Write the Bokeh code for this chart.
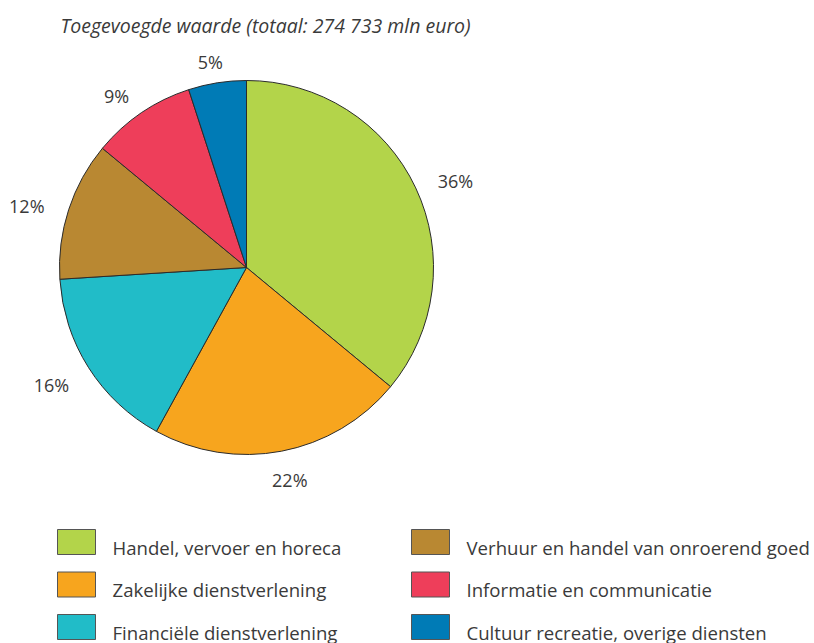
import math
from bokeh.plotting import figure
from bokeh.models import Range1d, ColumnDataSource
from bokeh.core.properties import value
from bokeh.embed import file_html
from bokeh.resources import INLINE

# ---- data ----
categories = [
    "Handel, vervoer en horeca",
    "Zakelijke dienstverlening",
    "Financiële dienstverlening",
    "Verhuur en handel van onroerend goed",
    "Informatie en communicatie",
    "Cultuur recreatie, overige diensten",
]
shares = [36, 22, 16, 12, 9, 5]
labels = ["36%", "22%", "16%", "12%", "9%", "5%"]
colors = ["#b3d44a", "#f7a51e", "#21bcc8", "#b98832", "#ee3e5a", "#007bb6"]
title_text = "Toegevoegde waarde (totaal: 274 733 mln euro)"

# ---- layout (picture pixel space, y flipped) ----
W, H = 814, 643
FONT = "Open Sans"
TXT = "#3a3a3a"

def py(y):
    return H - y

p = figure(width=W, height=H, output_backend="svg", toolbar_location=None,
           x_range=Range1d(0, W), y_range=Range1d(0, H),
           min_border=0, outline_line_color=None)
p.axis.visible = False
p.grid.visible = False
p.background_fill_color = "white"
p.border_fill_color = "white"

cx, cy, R = 246, py(267), 187
total = float(sum(shares))
starts, ends, mids = [], [], []
cum = 0.0
for s in shares:
    a0 = math.pi / 2 - 2 * math.pi * cum / total
    cum += s
    a1 = math.pi / 2 - 2 * math.pi * cum / total
    starts.append(a0)
    ends.append(a1)
    mids.append((a0 + a1) / 2)

src = ColumnDataSource(dict(start=starts, end=ends, color=colors))
p.wedge(x=cx, y=cy, radius=R, start_angle="start", end_angle="end",
        direction="clock", fill_color="color", line_color="#2b2b2b",
        line_width=1, source=src)

# percentage labels placed just outside the rim, pushed out by half their box
gap, half_w, half_h, drop = 18, 26, 7.5, 4
lx = [cx + (R + gap + half_w) * math.cos(m) for m in mids]
ly = [cy + (R + gap + half_h) * math.sin(m) - drop for m in mids]
p.text(x=lx, y=ly, text=labels, text_align="center", text_baseline="middle",
       text_font=value(FONT), text_font_size="18px", text_color=TXT)

# title
p.text(x=[60], y=[py(25)], text=[title_text], text_align="left",
       text_baseline="middle", text_font=value(FONT), text_font_size="19.5px",
       text_font_style="italic", text_color=TXT)

# legend
col_x = [76, 430]
row_y0, row_dy = 541.5, 42.5
sq_x, sq_y, tx, ty = [], [], [], []
for i, c in enumerate(categories):
    col, row = divmod(i, 3)
    sq_x.append(col_x[col])
    sq_y.append(py(row_y0 + row * row_dy))
    tx.append(col_x[col] + 36)
    ty.append(py(row_y0 + row * row_dy + 5))
p.rect(x=sq_x, y=sq_y, width=38, height=25, fill_color=colors,
       line_color="#555555", line_width=1)
p.text(x=tx, y=ty, text=categories, text_align="left", text_baseline="middle",
       text_font=value(FONT), text_font_size="18.6px", text_color=TXT)

open("out.html", "w").write(file_html(p, INLINE))
